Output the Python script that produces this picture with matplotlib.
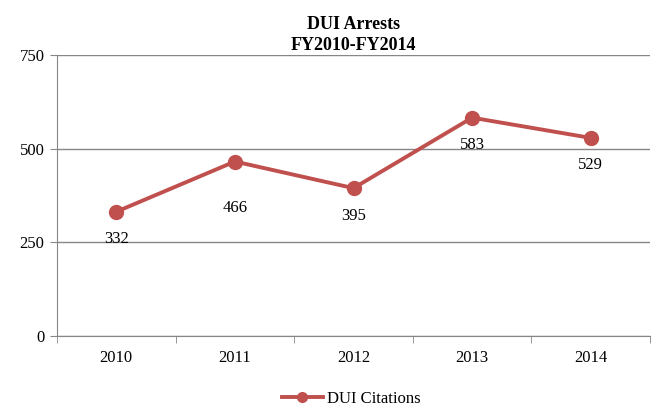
import numpy as np
import matplotlib.pyplot as plt

years = ['2010', '2011', '2012', '2013', '2014']
citations = [332, 466, 395, 583, 529]

plt.rcParams['font.family'] = ['Liberation Serif', 'DejaVu Serif']

fig = plt.figure(figsize=(6.62, 4.08), dpi=100)
ax = fig.add_axes([0.086, 0.176, 0.896, 0.689])

x = np.arange(len(years))
ax.plot(x, citations, '-o', color='#C0504D', lw=2.8, ms=10, label='DUI Citations', zorder=3)

# labels under points (2011 sits a bit lower in the original)
drops = [-14, -28, -14, -14, -14]
for i, v, d in zip(x, citations, drops):
    ax.annotate(str(v), xy=(i, v), xytext=(0, d), textcoords='offset points',
                ha='center', va='top', fontsize=12)

ax.set_xlim(-0.5, len(years) - 0.5)
ax.set_ylim(0, 750)
ax.set_yticks([0, 250, 500, 750])
ax.yaxis.grid(True, color='#868686', lw=1)
ax.set_axisbelow(True)

ax.set_xticks(x)
ax.set_xticklabels(years)
ax.set_xticks(np.arange(-0.5, len(years)), minor=True)
ax.tick_params(axis='x', which='major', length=0, pad=10, labelsize=12)
ax.tick_params(axis='x', which='minor', length=5, color='#868686')
ax.tick_params(axis='y', length=5, color='#868686', labelsize=12, pad=4)

for s in ['top', 'right']:
    ax.spines[s].set_visible(False)
for s in ['left', 'bottom']:
    ax.spines[s].set_color('#868686')

ax.set_title('DUI Arrests\nFY2010-FY2014', fontsize=13, fontweight='bold', pad=4, linespacing=1.25)

fig.legend(loc='lower center', bbox_to_anchor=(0.53, -0.035), frameon=False, fontsize=12,
           handlelength=2.5, handletextpad=0.2, markerscale=0.7)

fig.savefig('out.png', dpi=100)
